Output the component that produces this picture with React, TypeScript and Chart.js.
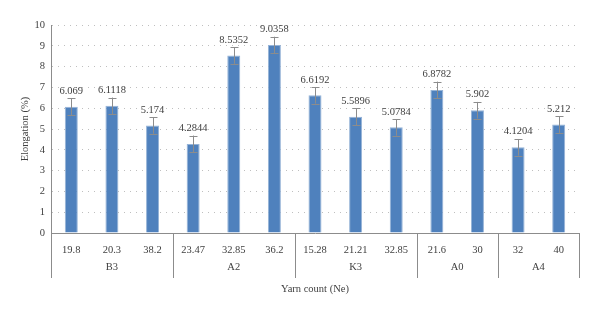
import React, { useEffect, useRef } from "react";
import { Chart, registerables } from "chart.js";

Chart.register(...registerables);

const yarnCounts = ["19.8", "20.3", "38.2", "23.47", "32.85", "36.2", "15.28", "21.21", "32.85", "21.6", "30", "32", "40"];
const groups = ["B3", "A2", "K3", "A0", "A4"];
const groupSizes = [3, 3, 3, 2, 2];
const elongation = [6.069, 6.1118, 5.174, 4.2844, 8.5352, 9.0358, 6.6192, 5.5896, 5.0784, 6.8782, 5.902, 4.1204, 5.212];
const valueLabels = ["6.069", "6.1118", "5.174", "4.2844", "8.5352", "9.0358", "6.6192", "5.5896", "5.0784", "6.8782", "5.902", "4.1204", "5.212"];
const errorMargins = [0.4, 0.4, 0.4, 0.4, 0.4, 0.4, 0.4, 0.4, 0.4, 0.4, 0.4, 0.4, 0.4];
const yMin = 0;
const yMax = 10;
const yStep = 1;

const FONT = "'Liberation Serif', 'DejaVu Serif', serif";
const TEXT = "#404040";
const AXIS = "#8c8c8c";

const overlayPlugin = {
  id: "overlay",
  afterDatasetsDraw(chart: any) {
    const { ctx, scales } = chart;
    const x = scales.x;
    const y = scales.y;
    ctx.save();
    ctx.strokeStyle = "#8c8c8c";
    ctx.lineWidth = 1;
    elongation.forEach((v, i) => {
      const px = Math.round(x.getPixelForValue(i)) + 0.5;
      const top = y.getPixelForValue(v + errorMargins[i]);
      const bot = y.getPixelForValue(v - errorMargins[i]);
      ctx.beginPath();
      ctx.moveTo(px, top);
      ctx.lineTo(px, bot);
      ctx.moveTo(px - 4, Math.round(top) + 0.5);
      ctx.lineTo(px + 4, Math.round(top) + 0.5);
      ctx.moveTo(px - 4, Math.round(bot) + 0.5);
      ctx.lineTo(px + 4, Math.round(bot) + 0.5);
      ctx.stroke();
    });
    ctx.fillStyle = TEXT;
    ctx.font = `10.5px ${FONT}`;
    ctx.textAlign = "center";
    ctx.textBaseline = "bottom";
    elongation.forEach((v, i) => {
      const px = x.getPixelForValue(i);
      const top = y.getPixelForValue(v + errorMargins[i]);
      ctx.fillText(valueLabels[i], px, top - 2);
    });
    ctx.restore();
  },
  afterDraw(chart: any) {
    const { ctx, chartArea, scales } = chart;
    const x = scales.x;
    const boundaries: number[] = [chartArea.left];
    let idx = 0;
    const centers: number[] = [];
    groupSizes.forEach((n) => {
      const start = idx;
      idx += n;
      const first = x.getPixelForValue(start);
      const last = x.getPixelForValue(idx - 1);
      centers.push((first + last) / 2);
      if (idx < elongation.length) {
        boundaries.push((x.getPixelForValue(idx - 1) + x.getPixelForValue(idx)) / 2);
      } else {
        boundaries.push(chartArea.right);
      }
    });
    ctx.save();
    ctx.strokeStyle = AXIS;
    ctx.lineWidth = 1;
    boundaries.forEach((bx) => {
      const px = Math.round(bx) + 0.5;
      ctx.beginPath();
      ctx.moveTo(px, chartArea.bottom);
      ctx.lineTo(px, chartArea.bottom + 45);
      ctx.stroke();
    });
    ctx.fillStyle = TEXT;
    ctx.font = `10.5px ${FONT}`;
    ctx.textAlign = "center";
    ctx.textBaseline = "middle";
    groups.forEach((g, i) => {
      ctx.fillText(g, centers[i], chartArea.bottom + 34);
    });
    ctx.restore();
  },
};

export default function App() {
  const ref = useRef<HTMLCanvasElement | null>(null);
  useEffect(() => {
    if (!ref.current) return;
    const chart = new Chart(ref.current, {
      type: "bar",
      data: {
        labels: yarnCounts,
        datasets: [
          {
            data: elongation,
            backgroundColor: "#4f81bd",
            borderColor: "#95b3d7",
            borderWidth: 1,
            barPercentage: 0.32,
            categoryPercentage: 1,
          },
        ],
      },
      options: {
        animation: false,
        responsive: true,
        maintainAspectRatio: false,
        layout: { padding: { left: 0, right: 21, top: 25, bottom: 0 } },
        plugins: {
          legend: { display: false },
          tooltip: { enabled: false },
        },
        scales: {
          x: {
            type: "category",
            grid: { display: false, drawTicks: false },
            border: { display: true, color: AXIS, width: 1 },
            ticks: {
              color: TEXT,
              font: { family: FONT, size: 10.5 },
              padding: 11,
              maxRotation: 0,
              autoSkip: false,
            },
            title: {
              display: true,
              text: "Yarn count (Ne)",
              color: TEXT,
              font: { family: FONT, size: 10.5 },
              padding: { top: 0, bottom: 19 },
            },
            afterFit(scale: any) {
              scale.height = 82;
            },
          },
          y: {
            min: yMin,
            max: yMax,
            grid: {
              color: "#bfbfbf",
              drawTicks: false,
              lineWidth: 1,
            },
            border: { display: true, color: AXIS, width: 1, dash: [1, 5] } as any,
            ticks: {
              stepSize: yStep,
              color: TEXT,
              font: { family: FONT, size: 10.5 },
              padding: 6,
            },
            title: {
              display: true,
              text: "Elongation (%)",
              color: TEXT,
              font: { family: FONT, size: 10.5 },
              padding: { top: 19, bottom: 0 },
            },
            afterFit(scale: any) {
              scale.width = 51;
            },
          },
        },
      },
      plugins: [overlayPlugin],
    });
    return () => chart.destroy();
  }, []);
  return (
    <div style={{ position: "absolute", left: 0, top: 0, width: 600, height: 315, background: "#fff" }}>
      <canvas ref={ref} />
    </div>
  );
}
